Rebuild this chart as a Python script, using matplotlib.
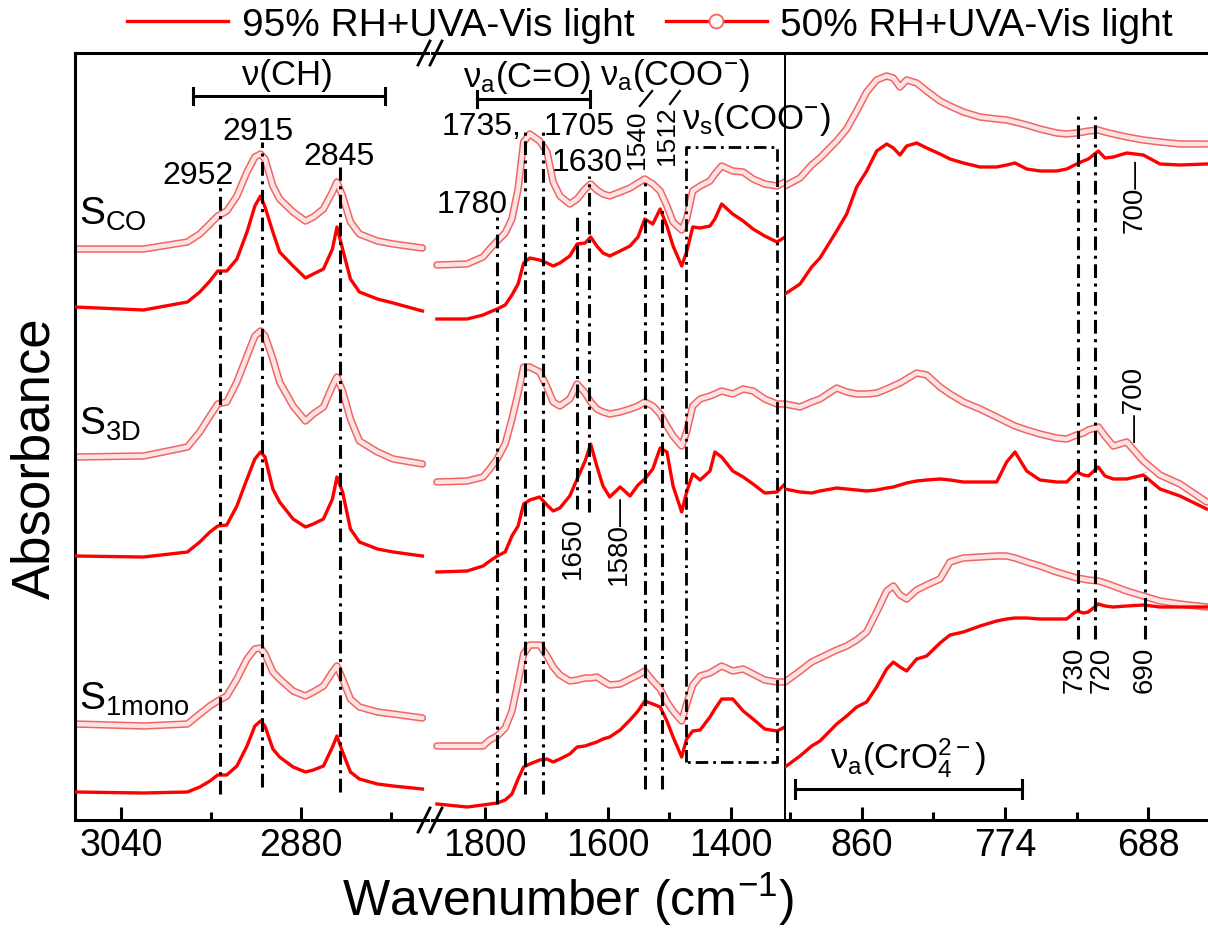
import matplotlib
matplotlib.use('Agg')
from matplotlib import pyplot as plt
from matplotlib.lines import Line2D

plt.rcParams['font.family'] = ['Liberation Sans', 'DejaVu Sans']
plt.rcParams['mathtext.fontset'] = 'custom'
plt.rcParams['mathtext.rm'] = 'Liberation Sans'
plt.rcParams['mathtext.it'] = 'Liberation Sans:italic'

# ---- data (absorbance, offset, arbitrary units) ----
# panel 1 : C-H region
wn1 = [3081, 3020, 2981, 2970, 2961, 2954, 2946, 2937, 2928, 2921, 2916, 2912, 2905,
       2899, 2887, 2876, 2869, 2860, 2852, 2848, 2843, 2836, 2828, 2812, 2798, 2772]
co95_1 = [514, 511, 519, 529, 540, 550, 550, 562, 589, 615, 625, 614, 589,
          569, 555, 543, 547, 552, 572, 594, 572, 542, 529, 522, 518, 510]
co50_1 = [572, 572, 579, 587, 597, 605, 610, 625, 649, 664, 667, 662, 635,
          622, 609, 600, 604, 612, 629, 639, 625, 599, 587, 580, 577, 573]
d3_95_1 = [265, 264, 269, 279, 289, 295, 296, 315, 342, 362, 369, 364, 332,
           319, 302, 294, 297, 302, 322, 344, 329, 292, 279, 272, 269, 265]
d3_50_1 = [364, 365, 374, 389, 405, 417, 419, 439, 465, 485, 490, 485, 462,
           439, 415, 400, 407, 414, 435, 444, 430, 402, 380, 369, 362, 357]
mono95_1 = [29, 28, 29, 34, 40, 46, 46, 55, 75, 95, 100, 95, 72,
            64, 54, 49, 51, 55, 74, 85, 69, 49, 42, 37, 35, 32]
mono50_1 = [97, 95, 97, 107, 115, 120, 125, 142, 162, 172, 173, 167, 149,
            142, 130, 125, 129, 135, 149, 155, 142, 122, 114, 109, 107, 103]

# panel 2 : carbonyl / carboxylate region
wn2 = [1878, 1829, 1803, 1792, 1780, 1767, 1756, 1746, 1737, 1727, 1711, 1699, 1689, 1678,
       1662, 1650, 1637, 1628, 1618, 1608, 1597, 1580, 1564, 1551, 1540, 1527, 1515, 1504,
       1494, 1480, 1472, 1462, 1450, 1434, 1426, 1415, 1397, 1380, 1364, 1345, 1325, 1312]
co95_2 = [502, 502, 506, 509, 512, 516, 526, 537, 558, 563, 561, 558, 555, 558,
          565, 577, 578, 584, 575, 568, 565, 570, 575, 584, 602, 597, 612, 595,
          575, 555, 569, 594, 593, 595, 602, 617, 607, 600, 592, 585, 579, 584]
co50_2 = [556, 557, 564, 572, 580, 588, 602, 632, 679, 687, 680, 669, 639, 625,
          617, 622, 632, 637, 631, 627, 625, 629, 633, 638, 642, 637, 630, 615,
          599, 591, 602, 630, 635, 640, 647, 655, 650, 649, 642, 637, 635, 639]
d3_95_2 = [249, 250, 255, 260, 265, 269, 285, 295, 317, 321, 324, 316, 310, 313,
           325, 342, 360, 377, 355, 335, 324, 334, 325, 336, 342, 352, 373, 369,
           335, 309, 329, 347, 341, 350, 369, 364, 350, 344, 337, 328, 329, 337]
d3_50_2 = [339, 340, 344, 352, 362, 377, 402, 428, 454, 454, 449, 434, 419, 415,
           422, 437, 428, 419, 412, 409, 407, 409, 412, 415, 419, 415, 407, 395,
           385, 375, 389, 415, 422, 425, 427, 430, 427, 432, 430, 422, 417, 417]
mono95_2 = [17, 14, 16, 17, 18, 21, 27, 42, 54, 57, 61, 62, 59, 62,
            67, 74, 75, 77, 79, 82, 84, 91, 101, 110, 120, 117, 114, 100,
            84, 64, 82, 90, 91, 104, 112, 122, 122, 110, 102, 92, 90, 94]
mono50_2 = [75, 75, 75, 81, 85, 93, 110, 139, 167, 176, 176, 165, 154, 146,
            140, 141, 143, 143, 144, 140, 136, 137, 142, 146, 150, 140, 132, 119,
            110, 100, 117, 136, 145, 148, 151, 155, 150, 152, 147, 141, 139, 139]

# panel 3 : chromate region
wn3 = [906, 897, 890, 885, 875, 869, 863, 857, 851, 845, 841, 837, 833, 827, 821, 813,
       807, 799, 789, 779, 773, 768, 761, 753, 743, 737, 731, 727, 724, 718, 714, 709,
       701, 691, 681, 669, 653]
co95_3 = [527, 537, 554, 563, 590, 607, 634, 650, 670, 677, 673, 666, 675, 678, 673, 667,
          662, 658, 654, 654, 656, 658, 652, 650, 650, 652, 657, 660, 662, 670, 663, 664,
          668, 666, 657, 656, 657]
co50_3 = [635, 643, 656, 663, 680, 692, 710, 729, 741, 745, 743, 734, 741, 738, 730, 720,
          715, 709, 704, 702, 701, 699, 696, 692, 688, 687, 688, 689, 690, 691, 689, 687,
          684, 681, 679, 677, 677]
d3_95_3 = [332, 329, 328, 330, 333, 332, 331, 330, 331, 333, 334, 336, 338, 340, 341, 342,
           341, 339, 339, 339, 359, 369, 350, 341, 339, 339, 349, 346, 345, 354, 345, 342,
           342, 346, 332, 325, 312]
d3_50_3 = [417, 414, 419, 422, 433, 429, 427, 427, 428, 432, 435, 438, 442, 448, 446, 434,
           427, 419, 412, 404, 399, 395, 391, 387, 383, 382, 386, 388, 391, 394, 385, 375,
           379, 360, 346, 337, 319]
mono95_3 = [54, 65, 75, 80, 97, 105, 114, 119, 134, 152, 159, 154, 150, 162, 165, 178,
            186, 189, 195, 200, 202, 203, 203, 202, 202, 202, 210, 208, 209, 217, 215, 214,
            215, 216, 214, 214, 214]
mono50_3 = [139, 150, 159, 163, 171, 175, 181, 189, 209, 230, 235, 226, 222, 231, 236, 242,
            259, 263, 264, 265, 265, 263, 259, 255, 249, 246, 243, 242, 241, 240, 238, 235,
            230, 225, 220, 217, 214]

# peak marker lines: (wavenumber, low, high)
marks1 = [(2952, 27, 634), (2915, 34, 679), (2845, 29, 654)]
marks2 = [(1780, 17, 604), (1735, 27, 692), (1705, 27, 689), (1650, 312, 607),
          (1630, 309, 645), (1540, 32, 642), (1512, 32, 614)]
marks3 = [(730, 182, 710), (720, 182, 710), (690, 182, 349)]

RED = '#ff0000'
PINK_EDGE = '#f26464'
PINK_FILL = '#fde4e4'
W, H = 1208, 929


def solid(ax, x, y):
    ax.plot(x, y, color=RED, lw=2.4, zorder=3, solid_joinstyle='round')


def hollow(ax, x, y):
    ax.plot(x, y, color=PINK_EDGE, lw=5.4, zorder=2, solid_joinstyle='round',
            solid_capstyle='round')
    ax.plot(x, y, color=PINK_FILL, lw=3.2, zorder=2, solid_joinstyle='round',
            solid_capstyle='round')


def dashdot(ax, xs, ys, lw=2.2):
    ax.plot(xs, ys, color='k', lw=lw, dashes=(4.5, 1.8, 1, 1.8), zorder=5)


def bracket(ax, x1, x2, y, cap):
    ax.plot([x1, x2], [y, y], color='k', lw=2.2, zorder=5)
    ax.plot([x1, x1], [y - cap, y + cap], color='k', lw=2.2, zorder=5)
    ax.plot([x2, x2], [y - cap, y + cap], color='k', lw=2.2, zorder=5)


fig = plt.figure(figsize=(W / 100, H / 100), dpi=100)
ax1 = fig.add_axes([75 / W, 108 / H, (428 - 75) / W, 767 / H])
ax2 = fig.add_axes([432 / W, 108 / H, (785 - 432) / W, 767 / H])
ax3 = fig.add_axes([785 / W, 108 / H, (1215 - 785) / W, 767 / H])
ax3.patch.set_visible(False)

ax1.set_xlim(3081, 2767)
ax2.set_xlim(1886, 1312)
ax3.set_xlim(906, 648)

for ax in (ax1, ax2, ax3):
    ax.set_ylim(1, 768)
    ax.set_yticks([])
    ax.spines['right'].set_visible(False)
    for s in ('top', 'bottom', 'left'):
        ax.spines[s].set_linewidth(2.2)
    ax.tick_params(axis='x', which='major', direction='in', length=9.5, width=2.2,
                   labelsize=27, pad=5)
    ax.tick_params(axis='x', which='minor', direction='in', length=6, width=2.2)
ax2.spines['left'].set_visible(False)
ax3.spines['left'].set_linewidth(1.4)

ax1.set_xticks([3040, 2880])
ax1.set_xticks([2960, 2800], minor=True)
ax2.set_xticks([1800, 1600, 1400])
ax2.set_xticks([1700, 1500], minor=True)
ax3.set_xticks([860, 774, 688])
ax3.set_xticks([903, 817, 731], minor=True)

for ax, wn, sets in ((ax1, wn1, (co95_1, co50_1, d3_95_1, d3_50_1, mono95_1, mono50_1)),
                     (ax2, wn2, (co95_2, co50_2, d3_95_2, d3_50_2, mono95_2, mono50_2)),
                     (ax3, wn3, (co95_3, co50_3, d3_95_3, d3_50_3, mono95_3, mono50_3))):
    for k, y in enumerate(sets):
        if k % 2 == 0:
            solid(ax, wn, y)
        else:
            hollow(ax, wn, y)

for ax, marks in ((ax1, marks1), (ax2, marks2), (ax3, marks3)):
    for w, lo, hi in marks:
        dashdot(ax, [w, w], [lo, hi])

# nu_s(COO-) box
dashdot(ax2, [1473, 1473, 1325, 1325, 1473], [59, 674, 674, 59, 59], lw=2.0)

# --- panel 1 labels ---
nsz = 23
ax1.text(2972, 646, '2952', fontsize=nsz, ha='center', va='center')
ax1.text(2918, 690, '2915', fontsize=nsz, ha='center', va='center')
ax1.text(2846, 665, '2845', fontsize=nsz, ha='center', va='center')
bracket(ax1, 2976, 2805, 725, 8)
ax1.text(2892, 747, 'ν(CH)', fontsize=25, ha='center', va='center')
ax1.text(3077, 597, r'S$_\mathregular{CO}$', fontsize=28, ha='left', va='baseline')
ax1.text(3077, 387, r'S$_\mathregular{3D}$', fontsize=28, ha='left', va='baseline')
ax1.text(3077, 112, r'S$_\mathregular{1mono}$', fontsize=28, ha='left', va='baseline')

# --- panel 2 labels ---
bracket(ax2, 1813, 1629, 722, 8)
ax2.text(1732, 745, r'ν$_\mathregular{a}$(C=O)', fontsize=25, ha='center', va='center')
ax2.text(1491, 747, r'ν$_\mathregular{a}$(COO$^\mathregular{-}$)', fontsize=25,
         ha='center', va='center', zorder=10)
ax2.text(1358, 702, r'ν$_\mathregular{s}$(COO$^\mathregular{-}$)', fontsize=25,
         ha='center', va='center', zorder=10)
ax2.text(1805, 695, '1735,', fontsize=nsz, ha='center', va='center')
ax2.text(1647, 695, '1705', fontsize=nsz, ha='center', va='center')
ax2.text(1633, 659, '1630', fontsize=nsz, ha='center', va='center')
ax2.text(1821, 617, '1780', fontsize=nsz, ha='center', va='center')
rsz = 20
ax2.text(1657, 274, '1650', fontsize=rsz, rotation=90, ha='center', va='center')
ax2.text(1582, 282, '1580—', fontsize=rsz, rotation=90, ha='center', va='center')
ax2.text(1553, 682, '1540', fontsize=19, rotation=90, ha='center', va='center')
ax2.text(1504, 686, '1512', fontsize=19, rotation=90, ha='center', va='center')
ax2.plot([1548, 1528], [715, 730], color='k', lw=1.6)
ax2.plot([1499, 1483], [717, 730], color='k', lw=1.6)

# --- panel 3 labels ---
ax3.text(732, 152, '730', fontsize=rsz, rotation=90, ha='center', va='center')
ax3.text(716, 152, '720', fontsize=rsz, rotation=90, ha='center', va='center')
ax3.text(690, 152, '690', fontsize=rsz, rotation=90, ha='center', va='center')
ax3.text(696, 626, '700—', fontsize=rsz, rotation=90, ha='center', va='center')
ax3.text(696, 417, '—700', fontsize=rsz, rotation=90, ha='center', va='center')
bracket(ax3, 900, 764, 32, 9)
ax3.text(832, 64, r'ν$_\mathregular{a}$(CrO$_\mathregular{4}^\mathregular{2-}$)',
         fontsize=25, ha='center', va='center')

# axis labels
fig.text(35 / W, 1 - 458 / H, 'Absorbance', fontsize=38, rotation=90,
         ha='center', va='center')
fig.text(568 / W, 1 - 916 / H, r'Wavenumber (cm$^\mathregular{-1}$)', fontsize=36,
         ha='center', va='baseline')

# axis break marks
for yb in (54, 821):
    for dx in (0, 12):
        x0 = 418 + dx
        fig.add_artist(Line2D([x0 / W, (x0 + 12) / W], [1 - (yb + 12) / H, 1 - (yb - 12) / H],
                              color='k', lw=2.0, transform=fig.transFigure))

# legend
h1 = Line2D([], [], color=RED, lw=2.4)
h2 = Line2D([], [], color=RED, lw=2.4, marker='o', mfc='white', mec=PINK_EDGE, ms=10,
            mew=1.3)
fig.legend([h1, h2], ['95% RH+UVA-Vis light', '50% RH+UVA-Vis light'], loc='upper center',
           bbox_to_anchor=(650 / W, 1.0), ncol=2, frameon=False, fontsize=28,
           handlelength=2.6, handletextpad=0.35, columnspacing=0.8, numpoints=1,
           borderaxespad=0.1, borderpad=0.1)

fig.savefig('out.png', dpi=100)
